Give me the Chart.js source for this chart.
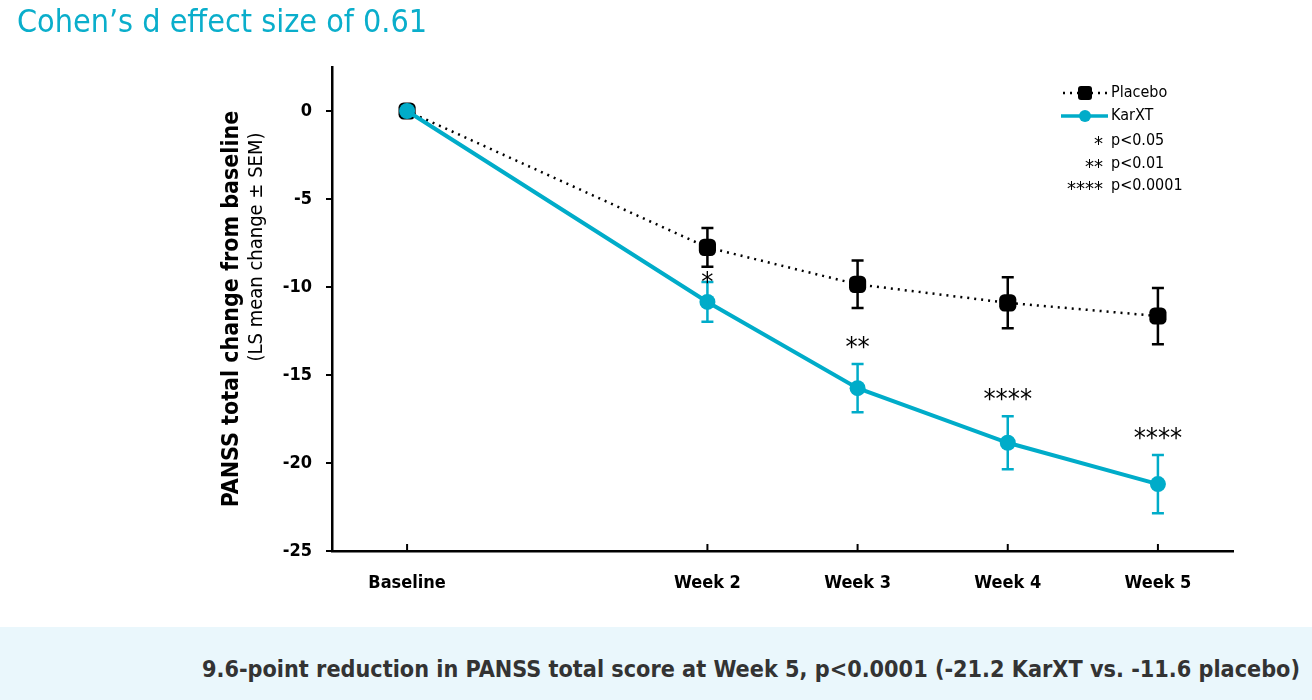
<!DOCTYPE html>
<html>
<head>
<meta charset="utf-8">
<script src="https://cdn.jsdelivr.net/npm/chart.js@4"></script>
<style>
  html, body { margin: 0; padding: 0; background: #fff; }
  body { width: 1312px; height: 700px; position: relative; overflow: hidden; }
  #title {
    position: absolute; left: 17px; top: 2px;
    font-family: "DejaVu Sans Condensed", "DejaVu Sans", sans-serif;
    font-size: 32px; color: #0aaecb; white-space: nowrap;
  }
  #wrap { position: absolute; left: 0; top: 0; width: 1312px; height: 627px; }
  #footer {
    position: absolute; left: 0; top: 627px; width: 1312px; height: 73px;
    background: #eaf7fc;
  }
  #footer span {
    position: absolute; right: 12px; top: 28px;
    font-family: "DejaVu Sans Condensed", "DejaVu Sans", sans-serif;
    font-weight: bold; font-size: 23.2px; color: #333; white-space: nowrap;
  }
</style>
</head>
<body>
<div id="wrap"><canvas id="chart" width="1312" height="627"></canvas></div>
<div id="title">Cohen’s d effect size of 0.61</div>
<div id="footer"><span>9.6-point reduction in PANSS total score at Week 5, p&lt;0.0001 (-21.2 KarXT vs. -11.6 placebo)</span></div>
<script>
const weeks = [0, 2, 3, 4, 5];
const tickLabels = ['Baseline', 'Week 2', 'Week 3', 'Week 4', 'Week 5'];
const placeboMean = [0, -7.75, -9.85, -10.9, -11.65];
const placeboSem = [0, 1.1, 1.35, 1.45, 1.6];
const karxtMean = [0, -10.85, -15.75, -18.85, -21.2];
const karxtSem = [0, 1.13, 1.37, 1.5, 1.66];
const stars = ['', '*', '**', '****', '****'];
const yTicks = [0, -5, -10, -15, -20, -25];
const sigLegend = [['*', 'p<0.05'], ['**', 'p<0.01'], ['****', 'p<0.0001']];

const BLUE = '#00acc9';
const FONT = '"DejaVu Sans Condensed", "DejaVu Sans", sans-serif';

function pts(mean) {
    return weeks.map((w, i) => ({ x: w, y: mean[i] }));
}

// error bars, stars, inward x ticks, y title, legend
const extras = {
    id: 'extras',
    afterDatasetsDraw(chart) {
        const ctx = chart.ctx;
        const xs = chart.scales.x, ys = chart.scales.y;
        ctx.save();

        function bars(mean, sem, color) {
            ctx.strokeStyle = color;
            ctx.lineWidth = 2.5;
            weeks.forEach((w, i) => {
                if (!sem[i]) return;
                const x = xs.getPixelForValue(w);
                const t = ys.getPixelForValue(mean[i] + sem[i]);
                const b = ys.getPixelForValue(mean[i] - sem[i]);
                ctx.beginPath();
                ctx.moveTo(x, t); ctx.lineTo(x, b);
                ctx.moveTo(x - 6, t); ctx.lineTo(x + 6, t);
                ctx.moveTo(x - 6, b); ctx.lineTo(x + 6, b);
                ctx.stroke();
            });
        }
        bars(placeboMean, placeboSem, '#000');
        bars(karxtMean, karxtSem, BLUE);

        // significance stars
        ctx.fillStyle = '#000';
        ctx.font = '27px ' + FONT;
        ctx.textAlign = 'center';
        ctx.textBaseline = 'middle';
        weeks.forEach((w, i) => {
            if (!stars[i]) return;
            const x = xs.getPixelForValue(w);
            const top = ys.getPixelForValue(karxtMean[i] + karxtSem[i]);
            const pBot = ys.getPixelForValue(placeboMean[i] - placeboSem[i]);
            let y = top - 15;
            if (y < pBot + 14) y = (pBot + top) / 2 + 10;
            ctx.fillText(stars[i], x, y);
        });

        // x ticks pointing up
        ctx.strokeStyle = '#000';
        ctx.lineWidth = 2;
        weeks.forEach(w => {
            const x = xs.getPixelForValue(w);
            ctx.beginPath();
            ctx.moveTo(x, xs.top);
            ctx.lineTo(x, xs.top - 7);
            ctx.stroke();
        });

        // y axis title
        ctx.save();
        const mid = (ys.top + ys.bottom) / 2;
        ctx.translate(232, mid);
        ctx.rotate(-Math.PI / 2);
        ctx.fillStyle = '#000';
        ctx.font = 'bold 23px ' + FONT;
        ctx.fillText('PANSS total change from baseline', 0, 0);
        ctx.font = '20px ' + FONT;
        ctx.fillText('(LS mean change ± SEM)', 62, 25);
        ctx.restore();

        // legend
        const lx = 1063, ly = 93;
        ctx.lineWidth = 2.5;
        ctx.strokeStyle = '#000';
        ctx.setLineDash([2, 5]);
        ctx.beginPath(); ctx.moveTo(lx, ly); ctx.lineTo(lx + 45, ly); ctx.stroke();
        ctx.setLineDash([]);
        ctx.fillStyle = '#000';
        ctx.beginPath();
        ctx.roundRect(lx + 15, ly - 7, 14, 14, 3);
        ctx.fill();
        ctx.strokeStyle = BLUE;
        ctx.lineWidth = 3.5;
        ctx.beginPath(); ctx.moveTo(lx - 2, ly + 23); ctx.lineTo(lx + 45, ly + 23); ctx.stroke();
        ctx.fillStyle = BLUE;
        ctx.beginPath(); ctx.arc(lx + 22, ly + 23, 6, 0, Math.PI * 2); ctx.fill();

        ctx.fillStyle = '#000';
        ctx.textAlign = 'left';
        ctx.font = '16px ' + FONT;
        ctx.fillText('Placebo', lx + 48, ly);
        ctx.fillText('KarXT', lx + 48, ly + 23);
        sigLegend.forEach((s, i) => {
            const y = ly + 48 + i * 22.5;
            ctx.font = '20px ' + FONT;
            ctx.textAlign = 'right';
            ctx.fillText(s[0], lx + 40, y + 4);
            ctx.font = '16px ' + FONT;
            ctx.textAlign = 'left';
            ctx.fillText(s[1], lx + 48, y);
        });
        ctx.restore();
    }
};

new Chart(document.getElementById('chart'), {
    type: 'line',
    data: {
        datasets: [
            {
                label: 'KarXT',
                data: pts(karxtMean),
                borderColor: BLUE,
                backgroundColor: BLUE,
                borderWidth: 4,
                pointStyle: 'circle',
                pointRadius: 8,
                pointBorderWidth: 0,
                tension: 0
            },
            {
                label: 'Placebo',
                data: pts(placeboMean),
                borderColor: '#000',
                backgroundColor: '#000',
                borderWidth: 2.5,
                borderDash: [2, 5],
                pointStyle: 'rectRounded',
                pointRadius: 10,
                pointBorderWidth: 0,
                tension: 0
            }
        ]
    },
    options: {
        responsive: false,
        animation: false,
        devicePixelRatio: 1,
        layout: { padding: { left: 0, top: 67, right: 1312 - 1233, bottom: 0 } },
        plugins: {
            legend: { display: false },
            tooltip: { enabled: false }
        },
        scales: {
            x: {
                type: 'linear',
                min: -0.5,
                max: 5.5,
                afterBuildTicks: s => { s.ticks = weeks.map(v => ({ value: v })); },
                afterFit: s => { s.height = 627 - 551; },
                border: { display: true, color: '#000', width: 2.5 },
                grid: { display: false },
                ticks: {
                    padding: 14,
                    color: '#000',
                    font: { family: FONT, size: 18, weight: 'bold' },
                    callback: v => tickLabels[weeks.indexOf(v)]
                }
            },
            y: {
                min: -25,
                max: 2.5,
                afterBuildTicks: s => { s.ticks = yTicks.map(v => ({ value: v })); },
                afterFit: s => { s.width = 332; },
                border: { display: true, color: '#000', width: 2.5 },
                grid: { drawOnChartArea: false, drawTicks: true, tickLength: 6, color: '#000', lineWidth: 2 },
                ticks: {
                    padding: 14,
                    color: '#000',
                    font: { family: FONT, size: 18, weight: 'bold' }
                }
            }
        }
    },
    plugins: [extras]
});
</script>
</body>
</html>
